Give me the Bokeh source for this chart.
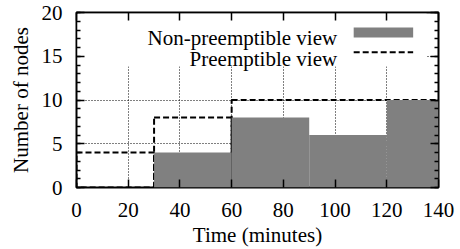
from bokeh.plotting import figure
from bokeh.models import LinearAxis, Range1d, FixedTicker
from bokeh.embed import file_html
from bokeh.resources import INLINE
from bokeh.core.properties import value

# ---- data ----
np_left = [30, 60, 90, 120]
np_right = [60, 90, 120, 140]
np_nodes = [4, 8, 6, 10]

pre_left = [0, 30, 60]
pre_right = [30, 60, 140]
pre_nodes = [4, 8, 10]

x_ticks = [0, 20, 40, 60, 80, 100, 120, 140]
y_ticks = [0, 5, 10, 15, 20]
y_minor = list(range(0, 21))
series_names = ["Non-preemptible view", "Preemptible view"]
x_label = "Time (minutes)"
y_label = "Number of nodes"

FONT = "Liberation Serif"
FS = "21px"
GRAY = "#808080"

p = figure(width=460, height=249, x_range=Range1d(0, 140), y_range=Range1d(0, 20),
           output_backend="svg", toolbar_location=None,
           min_border_left=76, min_border_right=22, min_border_top=12, min_border_bottom=62)
p.background_fill_color = "white"
p.border_fill_color = "white"
p.outline_line_color = "black"
p.outline_line_width = 2

# grids (dotted)
p.xgrid.ticker = FixedTicker(ticks=x_ticks)
p.ygrid.ticker = FixedTicker(ticks=y_ticks)
for g in (p.xgrid, p.ygrid):
    g.grid_line_color = "black"
    g.grid_line_dash = "1 2"
    g.grid_line_width = 1

def style_axis(ax, show_labels):
    ax.axis_line_color = None
    ax.major_tick_in = 8
    ax.major_tick_out = 0
    ax.minor_tick_in = 4
    ax.minor_tick_out = 0
    ax.major_tick_line_color = "black"
    ax.minor_tick_line_color = "black"
    ax.major_tick_line_width = 1.5
    ax.minor_tick_line_width = 1.5
    if show_labels:
        ax.major_label_text_font = FONT
        ax.major_label_text_font_size = FS
        ax.major_label_text_color = "black"
        ax.axis_label_text_font = FONT
        ax.axis_label_text_font_size = FS
        ax.axis_label_text_font_style = "normal"
        ax.axis_label_text_color = "black"
    else:
        ax.major_label_text_color = None
        ax.major_label_standoff = 0

xa = p.xaxis[0]
xa.ticker = FixedTicker(ticks=x_ticks)
xa.axis_label = x_label
style_axis(xa, True)
xa.major_label_standoff = 15
xa.axis_label_standoff = 3

ya = p.yaxis[0]
ya.ticker = FixedTicker(ticks=y_ticks, minor_ticks=y_minor)
ya.axis_label = y_label
style_axis(ya, True)
ya.major_label_standoff = 14
ya.axis_label_standoff = 6

top = LinearAxis(ticker=FixedTicker(ticks=x_ticks))
style_axis(top, False)
p.add_layout(top, "above")
right = LinearAxis(ticker=FixedTicker(ticks=y_ticks, minor_ticks=y_minor))
style_axis(right, False)
p.add_layout(right, "right")

# key background (hides grid behind key, as in gnuplot)
p.quad(left=[0.4], right=[135.4], bottom=[13.83], top=[19.85],
       fill_color="white", line_color=None)

# preemptible view: dashed box outlines
p.quad(left=pre_left, right=pre_right, bottom=0, top=pre_nodes,
       fill_color=None, line_color="black", line_width=2, line_dash="6 3")

# non-preemptible view: solid gray boxes
p.quad(left=np_left, right=np_right, bottom=0, top=np_nodes,
       fill_color=GRAY, line_color=None)

# key
p.text(x=[100.8, 100.8], y=[17.11, 14.7], text=series_names,
       text_align="right", text_baseline="alphabetic",
       text_font=value(FONT), text_font_size=FS, text_color="black")
p.quad(left=[107.2], right=[130.2], bottom=[17.14], top=[18.29],
       fill_color=GRAY, line_color=None)
p.line(x=[107.2, 130.2], y=[15.46, 15.46], line_color="black",
       line_width=2, line_dash="6 3")

open("out.html", "w").write(file_html(p, INLINE))
